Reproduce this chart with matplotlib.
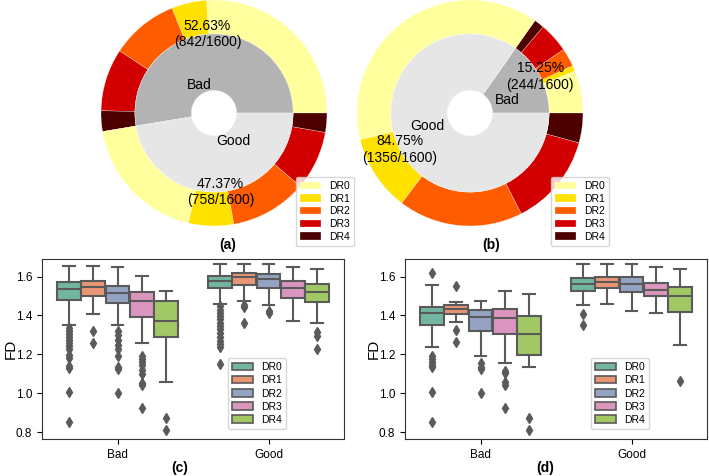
import colorsys
import numpy as np
import matplotlib
matplotlib.use("Agg")
import matplotlib.pyplot as plt
from matplotlib.patches import Patch

plt.rcParams['font.family'] = ['Liberation Sans', 'DejaVu Sans']

W, H = 709, 476

grades = ["DR0", "DR1", "DR2", "DR3", "DR4"]
groups = ["Bad", "Good"]

# donut data: counts per grade inside Bad / Good
a_bad = [417, 80, 155, 143, 47]
a_good = [300, 103, 176, 135, 44]
a_pct = ["52.63%\n(842/1600)", "47.37%\n(758/1600)"]
b_bad = [97, 13, 42, 69, 23]
b_good = [617, 174, 285, 212, 68]
b_pct = ["15.25%\n(244/1600)", "84.75%\n(1356/1600)"]

# boxplot data: [whislo, q1, med, q3, whishi] per grade
c_bad = [[1.352, 1.481, 1.534, 1.570, 1.652],
         [1.405, 1.500, 1.544, 1.577, 1.652],
         [1.352, 1.464, 1.513, 1.551, 1.649],
         [1.256, 1.392, 1.474, 1.521, 1.605],
         [1.059, 1.290, 1.373, 1.473, 1.525]]
c_bad_fl = [[1.335, 1.32, 1.305, 1.29, 1.275, 1.26, 1.245, 1.23, 1.195, 1.18, 1.14, 1.13, 1.005, 0.853],
            [1.322, 1.26],
            [1.32, 1.30, 1.275, 1.25, 1.225, 1.19, 1.135, 1.125, 1.0],
            [1.19, 1.175, 1.16, 1.145, 1.12, 1.10, 1.055, 1.045, 0.923],
            [0.871, 0.811]]
c_good = [[1.457, 1.542, 1.577, 1.604, 1.666],
          [1.476, 1.556, 1.596, 1.617, 1.666],
          [1.455, 1.539, 1.586, 1.612, 1.666],
          [1.370, 1.492, 1.542, 1.577, 1.649],
          [1.359, 1.469, 1.520, 1.560, 1.640]]
c_good_fl = [[1.45, 1.43, 1.41, 1.395, 1.38, 1.36, 1.345, 1.33, 1.31, 1.29, 1.27, 1.255, 1.24, 1.15],
             [1.455, 1.445, 1.361],
             [1.424, 1.41],
             [],
             [1.317, 1.295, 1.23]]
d_bad = [[1.237, 1.350, 1.415, 1.441, 1.554],
         [1.364, 1.408, 1.431, 1.453, 1.469],
         [1.190, 1.321, 1.391, 1.426, 1.473],
         [1.157, 1.307, 1.385, 1.431, 1.527],
         [1.134, 1.198, 1.307, 1.399, 1.508]]
d_bad_fl = [[1.617, 1.19, 1.175, 1.16, 1.145, 1.135, 1.005, 0.853],
            [1.551, 1.324, 1.263],
            [1.155, 1.135, 1.125, 1.0],
            [1.115, 1.105, 1.06, 1.045, 0.923],
            [0.871, 0.811]]
d_good = [[1.452, 1.527, 1.562, 1.591, 1.666],
          [1.457, 1.542, 1.574, 1.600, 1.666],
          [1.422, 1.520, 1.560, 1.596, 1.666],
          [1.412, 1.499, 1.530, 1.569, 1.649],
          [1.246, 1.420, 1.499, 1.548, 1.640]]
d_good_fl = [[1.405, 1.35], [], [], [], [1.062]]

hot = plt.get_cmap('hot')
ring_cols = [hot(v) for v in [0.9, 0.7, 0.5, 0.3, 0.1]]
inner_cols = ['#b3b3b3', '#e6e6e6']

set2 = ['#66c2a5', '#fc8d62', '#8da0cb', '#e78ac3', '#a6d854']
def desat(c, s=0.75):
    r, g, b = matplotlib.colors.to_rgb(c)
    h, l, sat = colorsys.rgb_to_hls(r, g, b)
    return colorsys.hls_to_rgb(h, l, sat * s)
box_cols = [desat(c) for c in set2]
gray = '#5a5a5a'


def px_axes(fig, x0, y0, w, h):
    return fig.add_axes([x0 / W, 1 - (y0 + h) / H, w / W, h / H])


fig = plt.figure(figsize=(W / 100, H / 100), dpi=100)


def donut(cx, cy, bad, good, pcts, leg_xy):
    R = 113
    ax = px_axes(fig, cx - R, cy - R, 2 * R, 2 * R)
    outer, _ = ax.pie(bad + good, radius=1.0, colors=ring_cols * 2, startangle=0,
                      counterclock=True, wedgeprops=dict(width=0.3, edgecolor='w', linewidth=0.2))
    it = iter(pcts)
    ax.pie([sum(bad), sum(good)], radius=0.7, colors=inner_cols, startangle=0,
           labels=groups, labeldistance=0.36, autopct=lambda p: next(it), pctdistance=1.0,
           textprops=dict(fontsize=10),
           wedgeprops=dict(width=0.5, edgecolor='w', linewidth=0.2))
    ax.set_xlim(-1, 1)
    ax.set_ylim(-1, 1)
    ax.set_aspect('equal')
    ax.legend(outer[:5], grades, loc='upper left', fontsize=7.5, labelspacing=0.25,
              borderaxespad=0, bbox_to_anchor=(leg_xy[0] / W, 1 - leg_xy[1] / H),
              bbox_transform=fig.transFigure)


donut(214, 113, a_bad, a_good, a_pct, (296, 177))
donut(470, 113, b_bad, b_good, b_pct, (551, 177))


def boxpanel(x0, bad, bad_fl, good, good_fl):
    ax = px_axes(fig, x0, 259, 302, 180)
    offs = [-0.32, -0.16, 0, 0.16, 0.32]
    for i in range(5):
        stats = []
        for s, fl in [(bad[i], bad_fl[i]), (good[i], good_fl[i])]:
            stats.append(dict(whislo=s[0], q1=s[1], med=s[2], q3=s[3], whishi=s[4], fliers=fl))
        ax.bxp(stats, positions=[0 + offs[i], 1 + offs[i]], widths=0.157, patch_artist=True,
               boxprops=dict(facecolor=box_cols[i], edgecolor=gray, linewidth=1.5),
               medianprops=dict(color=gray, linewidth=1.5),
               whiskerprops=dict(color=gray, linewidth=1.5),
               capprops=dict(color=gray, linewidth=1.5),
               flierprops=dict(marker='d', markerfacecolor=gray, markeredgecolor=gray, markersize=5))
    ax.set_xlim(-0.5, 1.5)
    ax.set_ylim(0.765, 1.69)
    ax.set_xticks([0, 1])
    ax.set_xticklabels(groups, fontsize=8.5)
    ax.set_yticks([0.8, 1.0, 1.2, 1.4, 1.6])
    ax.set_yticklabels(['0.8', '1.0', '1.2', '1.4', '1.6'], fontsize=8.5)
    ax.set_ylabel('FD', fontsize=11)
    ax.yaxis.set_label_coords(-0.08, 0.5)
    for sp in ax.spines.values():
        sp.set_color('#333333')
    handles = [Patch(facecolor=c, edgecolor=gray, linewidth=1.2) for c in box_cols]
    ax.legend(handles, grades, loc='lower left', bbox_to_anchor=(0.616, 0.056),
              borderaxespad=0, fontsize=7.5, labelspacing=0.3)
    return ax


axc = boxpanel(42, c_bad, c_bad_fl, c_good, c_good_fl)
axd = boxpanel(405, d_bad, d_bad_fl, d_good, d_good_fl)

for t, x, y in [('(a)', 228, 245), ('(b)', 491, 245), ('(c)', 180, 468), ('(d)', 545, 468)]:
    fig.text(x / W, 1 - y / H, t, ha='center', va='center', fontsize=10, fontweight='bold')

fig.savefig('out.png', dpi=100)
